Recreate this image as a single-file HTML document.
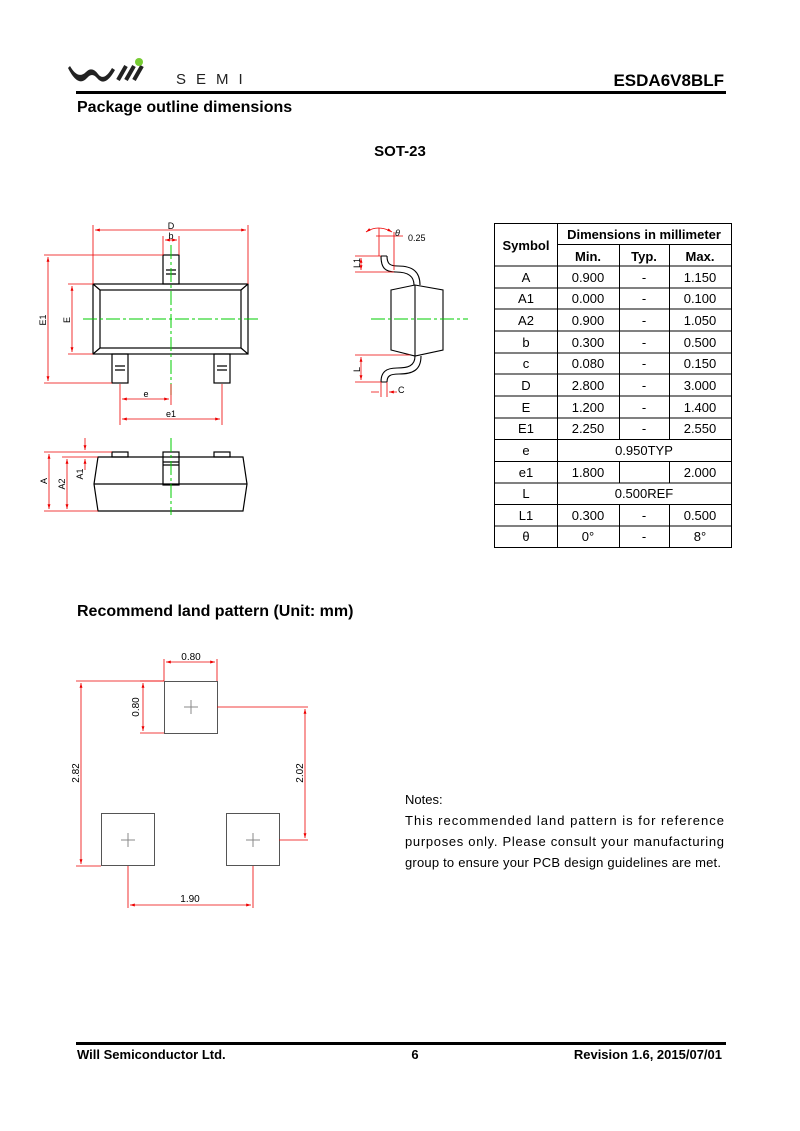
<!DOCTYPE html>
<html><head><meta charset="utf-8"><style>
body{margin:0;background:#fff}
svg{display:block}
text{font-family:"Liberation Sans",Arial,sans-serif}
</style></head><body>
<svg width="800" height="1131" viewBox="0 0 800 1131" xmlns="http://www.w3.org/2000/svg">
<defs>
<marker id="a" viewBox="0 0 10 10" refX="10" refY="5" markerWidth="6" markerHeight="6" orient="auto-start-reverse"><path d="M0,2 L10,5 L0,8z" fill="#e00"/></marker>
</defs>
<!-- header -->
<path d="M70,66 Q78,80 86,72 Q92,66 98,74 Q104,82 112,68 L115,70 Q105,88 97,78 Q92,72 87,78 Q78,88 68,68z" fill="#222"/>
<path d="M118,80 L126,66 M126,80 L134,66 M134,80 L142,66" stroke="#222" stroke-width="4"/>
<circle cx="139" cy="62" r="4" fill="#7c3"/>
<text x="176" y="84" font-size="15" letter-spacing="10" fill="#222">SEMI</text>
<text x="724" y="86" font-size="17" font-weight="bold" text-anchor="end">ESDA6V8BLF</text>
<rect x="76" y="91" width="650" height="3" fill="#000"/>
<text x="77" y="112" font-size="16" font-weight="bold">Package outline dimensions</text>
<text x="400" y="156" font-size="15" font-weight="bold" text-anchor="middle">SOT-23</text>

<!-- top view -->
<g fill="none" stroke="#000" stroke-width="1.2">
<rect x="93" y="284" width="155" height="70"/>
<rect x="100" y="290" width="141" height="58"/>
<path d="M93,284L100,290M248,284L241,290M93,354L100,348M248,354L241,348"/>
<rect x="163" y="255" width="16" height="29"/>
<path d="M166,270h10M166,274h10"/>
<rect x="112" y="354" width="16" height="29"/>
<path d="M115,366h10M115,370h10"/>
<rect x="214" y="354" width="16" height="29"/>
<path d="M217,366h10M217,370h10"/>
</g>
<g stroke="#0c0" stroke-width="1" stroke-dasharray="14,3,3,3" fill="none">
<path d="M171,245V395M83,319H258"/>
</g>
<g stroke="#e00" stroke-width="0.8" fill="none">
<path d="M93,225V284M248,225V284M163,236V255M179,236V255"/>
<path d="M95,230H246" marker-start="url(#a)" marker-end="url(#a)"/>
<path d="M165,240H177" marker-start="url(#a)" marker-end="url(#a)"/>
<path d="M44,255H163M44,383H112M68,284H93M68,354H93"/>
<path d="M48,257V381" marker-start="url(#a)" marker-end="url(#a)"/>
<path d="M72,286V352" marker-start="url(#a)" marker-end="url(#a)"/>
<path d="M120,384V425M222,384V425M171,384V405"/>
<path d="M122,399H169" marker-start="url(#a)" marker-end="url(#a)"/>
<path d="M122,419H220" marker-start="url(#a)" marker-end="url(#a)"/>
</g>
<g font-size="9" text-anchor="middle">
<text x="171" y="229">D</text><text x="171" y="239">b</text>
<text x="146" y="397">e</text><text x="171" y="417">e1</text>
<text transform="translate(46,320) rotate(-90)">E1</text>
<text transform="translate(70,320) rotate(-90)">E</text>
<text transform="translate(47,481) rotate(-90)">A</text>
<text transform="translate(65,484) rotate(-90)">A2</text>
<text transform="translate(83,474) rotate(-90)">A1</text>
</g>

<!-- side view -->
<g fill="none" stroke="#000" stroke-width="1.2">
<rect x="112" y="452" width="16" height="5"/>
<rect x="214" y="452" width="16" height="5"/>
<path d="M98,457H243L247,484L243,511H98L94,484Z"/>
<path d="M94,484H247"/>
<rect x="163" y="452" width="16" height="33"/>
<path d="M163,462h16M163,465h16"/>
</g>
<path d="M171,438V515" stroke="#0c0" stroke-dasharray="14,3,3,3"/>
<g stroke="#e00" stroke-width="0.8" fill="none">
<path d="M44,452H112M62,457H98M44,511H98M80,452H112"/>
<path d="M49,454V509" marker-start="url(#a)" marker-end="url(#a)"/>
<path d="M67,459V509" marker-start="url(#a)" marker-end="url(#a)"/>
<path d="M85,438V450" marker-end="url(#a)"/>
<path d="M85,470V459" marker-end="url(#a)"/>
</g>

<!-- profile view -->
<g fill="none" stroke="#000" stroke-width="1.1">
<path d="M391,290L415,285L443,290V350L415,356L391,350Z"/>
<path d="M415,285V356"/>
<path d="M381,256 C381,268 385,272 396,272 C408,272 414,276 414,285 M387,256 C387,264 390,266 398,266 C413,266 420,272 420,285 M381,256h6"/>
<path d="M415,356 C415,366 408,368 397,368 C386,368 381,372 381,382 M421,356 C421,370 413,374 399,374 C390,374 387,376 387,382 M381,382h6"/>
</g>
<path d="M371,319H468" stroke="#0c0" stroke-dasharray="14,3,3,3"/>
<g stroke="#e00" stroke-width="0.8" fill="none">
<path d="M376,236H403M379,228V256M394,232V270"/>
<path d="M366,232 Q378,224 392,232" marker-start="url(#a)" marker-end="url(#a)"/>
<path d="M355,256H381M355,272H394"/>
<path d="M361,258V270" marker-start="url(#a)" marker-end="url(#a)"/>
<path d="M355,355H410M355,382H381"/>
<path d="M361,357V380" marker-start="url(#a)" marker-end="url(#a)"/>
<path d="M381,382V397M387,382V397M371,392H379M397,392H389" marker-end="url(#a)"/>
</g>
<g font-size="9">
<text x="395" y="236" font-style="italic">θ</text><text x="408" y="241">0.25</text>
<text transform="translate(360,268) rotate(-90)">L1</text>
<text transform="translate(360,372) rotate(-90)">L</text>
<text x="398" y="393">C</text>
</g>

<!-- table -->
<g stroke="#000" stroke-width="1" fill="none">
<rect x="494.5" y="223.5" width="237" height="324"/>
<path d="M557.5,223.5V547.5M619.5,244.5V439.5M669.5,244.5V439.5M619.5,461.5V483M669.5,461.5V483M619.5,504.5V547.5M669.5,504.5V547.5M557.5,244.5H731.5"/>
<path d="M494.5,266H731.5M494.5,288H731.5M494.5,309H731.5M494.5,331H731.5M494.5,353H731.5M494.5,374H731.5M494.5,396H731.5M494.5,418H731.5M494.5,439.5H731.5M494.5,461.5H731.5M494.5,483H731.5M494.5,504.5H731.5M494.5,526H731.5"/>
</g>
<g font-size="13" text-anchor="middle">
<text x="526" y="250" font-weight="bold">Symbol</text>
<text x="644" y="239" font-weight="bold">Dimensions in millimeter</text>
<text x="588" y="261" font-weight="bold">Min.</text><text x="644" y="261" font-weight="bold">Typ.</text><text x="700" y="261" font-weight="bold">Max.</text>
<g>
<text x="526" y="282">A</text><text x="588" y="282">0.900</text><text x="644" y="282">-</text><text x="700" y="282">1.150</text>
<text x="526" y="303">A1</text><text x="588" y="303">0.000</text><text x="644" y="303">-</text><text x="700" y="303">0.100</text>
<text x="526" y="325">A2</text><text x="588" y="325">0.900</text><text x="644" y="325">-</text><text x="700" y="325">1.050</text>
<text x="526" y="347">b</text><text x="588" y="347">0.300</text><text x="644" y="347">-</text><text x="700" y="347">0.500</text>
<text x="526" y="368">c</text><text x="588" y="368">0.080</text><text x="644" y="368">-</text><text x="700" y="368">0.150</text>
<text x="526" y="390">D</text><text x="588" y="390">2.800</text><text x="644" y="390">-</text><text x="700" y="390">3.000</text>
<text x="526" y="412">E</text><text x="588" y="412">1.200</text><text x="644" y="412">-</text><text x="700" y="412">1.400</text>
<text x="526" y="433">E1</text><text x="588" y="433">2.250</text><text x="644" y="433">-</text><text x="700" y="433">2.550</text>
<text x="526" y="455">e</text><text x="644" y="455">0.950TYP</text>
<text x="526" y="477">e1</text><text x="588" y="477">1.800</text><text x="700" y="477">2.000</text>
<text x="526" y="498">L</text><text x="644" y="498">0.500REF</text>
<text x="526" y="520">L1</text><text x="588" y="520">0.300</text><text x="644" y="520">-</text><text x="700" y="520">0.500</text>
<text x="526" y="541">θ</text><text x="588" y="541">0°</text><text x="644" y="541">-</text><text x="700" y="541">8°</text>
</g>
</g>

<text x="77" y="616" font-size="16" font-weight="bold">Recommend land pattern (Unit: mm)</text>

<!-- land pattern -->
<g fill="none" stroke="#555" stroke-width="1">
<rect x="164.5" y="681.5" width="53" height="52"/>
<rect x="101.5" y="813.5" width="53" height="52"/>
<rect x="226.5" y="813.5" width="53" height="52"/>
<path d="M184,707h14M191,700v14M121,840h14M128,833v14M246,840h14M253,833v14" stroke="#888"/>
</g>
<g stroke="#e00" stroke-width="0.8" fill="none">
<path d="M164,659V681M217,659V681"/>
<path d="M166,662H215" marker-start="url(#a)" marker-end="url(#a)"/>
<path d="M140,681H164M140,733H164"/>
<path d="M143,683V731" marker-start="url(#a)" marker-end="url(#a)"/>
<path d="M76,681H164M76,866H101"/>
<path d="M81,683V864" marker-start="url(#a)" marker-end="url(#a)"/>
<path d="M217,707H308M279,840H308"/>
<path d="M305,709V838" marker-start="url(#a)" marker-end="url(#a)"/>
<path d="M128,866V908M253,866V908"/>
<path d="M130,905H251" marker-start="url(#a)" marker-end="url(#a)"/>
</g>
<g font-size="10" text-anchor="middle">
<text x="191" y="660">0.80</text>
<text transform="translate(139,707) rotate(-90)">0.80</text>
<text transform="translate(79,773) rotate(-90)">2.82</text>
<text transform="translate(303,773) rotate(-90)">2.02</text>
<text x="190" y="902">1.90</text>
</g>

<g font-size="13">
<text x="405" y="804">Notes:</text>
<text x="405" y="825" textLength="319" lengthAdjust="spacing">This recommended land pattern is for reference</text>
<text x="405" y="846" textLength="319" lengthAdjust="spacing">purposes only. Please consult your manufacturing</text>
<text x="405" y="867" textLength="316" lengthAdjust="spacing">group to ensure your PCB design guidelines are met.</text>
</g>

<rect x="76" y="1042" width="650" height="3" fill="#000"/>
<g font-size="13" font-weight="bold">
<text x="77" y="1059">Will Semiconductor Ltd.</text>
<text x="415" y="1059" text-anchor="middle">6</text>
<text x="722" y="1059" text-anchor="end">Revision 1.6, 2015/07/01</text>
</g>
</svg>
</body></html>
